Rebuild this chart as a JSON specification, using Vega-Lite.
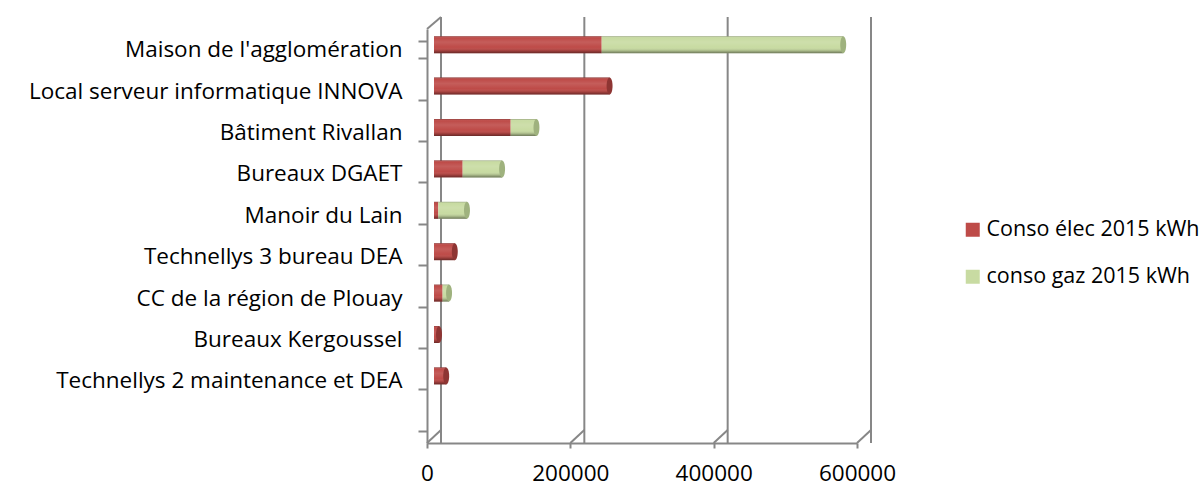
{
  "$schema": "https://vega.github.io/schema/vega-lite/v6.json",
  "width": 430,
  "height": 414,
  "autosize": "none",
  "padding": {"left": 427, "top": 29, "right": 342, "bottom": 44},
  "background": "white",
  "config": {
    "font": "Open Sans",
    "view": {"stroke": null},
    "axis": {"labelColor": "#000000", "labelFontSize": 22.5, "labelFont": "Open Sans", "domainColor": "#878787", "domainWidth": 2, "tickColor": "#878787", "tickWidth": 2, "title": null, "grid": false}
  },
  "datasets": {
    "graduations": [{"v": 0}, {"v": 200000}, {"v": 400000}, {"v": 600000}],
    "conso": [
      {"batiment": "Maison de l'agglomération", "serie": "Conso élec 2015 kWh", "kWh": 234000},
      {"batiment": "Maison de l'agglomération", "serie": "conso gaz 2015 kWh", "kWh": 337000},
      {"batiment": "Local serveur informatique INNOVA", "serie": "Conso élec 2015 kWh", "kWh": 245000},
      {"batiment": "Bâtiment Rivallan", "serie": "Conso élec 2015 kWh", "kWh": 107000},
      {"batiment": "Bâtiment Rivallan", "serie": "conso gaz 2015 kWh", "kWh": 36000},
      {"batiment": "Bureaux DGAET", "serie": "Conso élec 2015 kWh", "kWh": 40000},
      {"batiment": "Bureaux DGAET", "serie": "conso gaz 2015 kWh", "kWh": 55000},
      {"batiment": "Manoir du Lain", "serie": "Conso élec 2015 kWh", "kWh": 6000},
      {"batiment": "Manoir du Lain", "serie": "conso gaz 2015 kWh", "kWh": 40000},
      {"batiment": "Technellys 3 bureau DEA", "serie": "Conso élec 2015 kWh", "kWh": 29000},
      {"batiment": "CC de la région de Plouay", "serie": "Conso élec 2015 kWh", "kWh": 12000},
      {"batiment": "CC de la région de Plouay", "serie": "conso gaz 2015 kWh", "kWh": 9000},
      {"batiment": "Bureaux Kergoussel", "serie": "Conso élec 2015 kWh", "kWh": 7000},
      {"batiment": "Technellys 2 maintenance et DEA", "serie": "Conso élec 2015 kWh", "kWh": 17000}
    ]
  },
  "layer": [
    {
      "description": "back wall gridlines",
      "data": {"name": "graduations"},
      "mark": {"type": "rule", "color": "#878787", "strokeWidth": 2, "xOffset": 14, "yOffset": -12, "y2Offset": -13},
      "encoding": {
        "x": {"field": "v", "type": "quantitative", "scale": {"domain": [0, 600000]}, "axis": {"values": [0, 200000, 400000, 600000], "format": "d", "tickSize": 5, "labelPadding": 14, "labelFlush": false}}
      }
    },
    {
      "description": "floor edges joining the front axis to the back wall",
      "data": {"name": "graduations"},
      "mark": {"type": "rule", "color": "#878787", "strokeWidth": 2, "x2Offset": 14, "y2Offset": -13},
      "encoding": {
        "x": {"field": "v", "type": "quantitative"},
        "x2": {"field": "v"},
        "y": {"value": "height"},
        "y2": {"value": "height"}
      }
    },
    {
      "description": "top edge of the side wall",
      "data": {"name": "graduations"},
      "transform": [{"filter": "datum.v === 0"}],
      "mark": {"type": "rule", "color": "#878787", "strokeWidth": 2, "x2Offset": 14, "y2Offset": -12},
      "encoding": {
        "x": {"field": "v", "type": "quantitative"},
        "x2": {"field": "v"},
        "y": {"value": 0},
        "y2": {"value": 0}
      }
    },
    {
      "data": {"name": "conso"},
      "transform": [
        {"stack": "kWh", "groupby": ["batiment"], "sort": [{"field": "serie", "order": "ascending"}], "as": ["debut", "fin"]}
      ],
      "layer": [
        {
          "mark": {"type": "bar", "xOffset": 7, "x2Offset": 7, "yOffset": -5, "y2Offset": -5},
          "encoding": {
            "y": {
              "field": "batiment", "type": "nominal",
              "scale": {
                "domain": ["Maison de l'agglomération", "Local serveur informatique INNOVA", "Bâtiment Rivallan", "Bureaux DGAET", "Manoir du Lain", "Technellys 3 bureau DEA", "CC de la région de Plouay", "Bureaux Kergoussel", "Technellys 2 maintenance et DEA", ""],
                "paddingInner": 0.59, "paddingOuter": 0.295
              },
              "axis": {"tickBand": "extent", "tickSize": 9, "labelPadding": 16, "labelLimit": 420}
            },
            "x": {"field": "debut", "type": "quantitative"},
            "x2": {"field": "fin"},
            "color": {
              "field": "serie", "type": "nominal",
              "scale": {"domain": ["Conso élec 2015 kWh", "conso gaz 2015 kWh"], "range": ["#BE4B48", "#C8DBA2"]},
              "legend": {
                "title": null, "orient": "none", "legendX": 535, "legendY": 190,
                "symbolType": "square", "symbolSize": 196, "symbolStrokeWidth": 0,
                "labelFontSize": 21.5, "labelFont": "Open Sans", "labelColor": "#000000",
                "labelOffset": 3, "rowPadding": 24, "labelLimit": 300
              }
            }
          }
        },
        {
          "description": "cylinder shading",
          "mark": {
            "type": "bar", "xOffset": 7, "x2Offset": 7, "yOffset": -5, "y2Offset": -5,
            "fill": {
              "gradient": "linear", "x1": 0, "y1": 0, "x2": 0, "y2": 1,
              "stops": [
                {"offset": 0, "color": "rgba(0,0,0,0.3)"},
                {"offset": 0.1, "color": "rgba(255,255,255,0)"},
                {"offset": 0.35, "color": "rgba(255,255,255,0.1)"},
                {"offset": 0.65, "color": "rgba(255,255,255,0)"},
                {"offset": 0.85, "color": "rgba(0,0,0,0.15)"},
                {"offset": 1, "color": "rgba(0,0,0,0.45)"}
              ]
            }
          },
          "encoding": {
            "y": {"field": "batiment", "type": "nominal"},
            "x": {"field": "debut", "type": "quantitative"},
            "x2": {"field": "fin"}
          }
        },
        {
          "description": "cylinder end caps",
          "transform": [
            {"window": [{"op": "rank", "as": "rang"}], "groupby": ["batiment"], "sort": [{"field": "serie", "order": "descending"}]},
            {"filter": "datum.rang === 1"}
          ],
          "mark": {"type": "point", "filled": true, "opacity": 1, "size": 289, "xOffset": 7, "yOffset": -5, "shape": "M0,-1A0.35,1,0,1,1,0,1A0.35,1,0,1,1,0,-1Z"},
          "encoding": {
            "y": {"field": "batiment", "type": "nominal"},
            "x": {"field": "fin", "type": "quantitative"},
            "fill": {
              "field": "serie", "type": "nominal",
              "scale": {"domain": ["Conso élec 2015 kWh", "conso gaz 2015 kWh"], "range": ["#8E3533", "#9FB27E"]},
              "legend": null
            }
          }
        }
      ]
    }
  ]
}
